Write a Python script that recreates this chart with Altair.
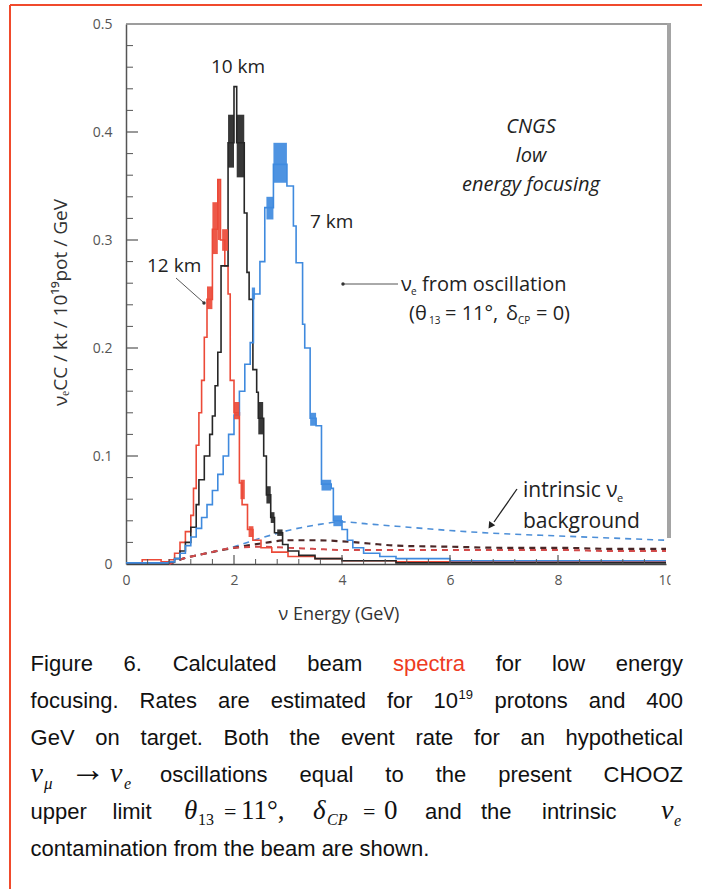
import altair as alt
import pandas as pd

# ---------------- values ----------------
# nu_e from oscillation, 12 km (red): histogram bin edges (GeV) and rates
red_edges = [0, 0.3, 0.65, 0.8, 0.9, 1.0, 1.1, 1.2, 1.25, 1.3, 1.35, 1.4, 1.45, 1.5, 1.6, 1.7,
             1.75, 1.83, 1.89, 1.93, 2.0, 2.1, 2.15, 2.25, 2.35, 2.5, 2.7, 3.0, 3.5, 4.0, 5.0, 10.0]
red_vals = [0.001, 0.004, 0.002, 0.004, 0.01, 0.02, 0.03, 0.045, 0.07, 0.11, 0.14, 0.17, 0.21,
            0.245, 0.31, 0.356, 0.3, 0.276, 0.25, 0.17, 0.14, 0.075, 0.055, 0.032, 0.022,
            0.015, 0.011, 0.007, 0.005, 0.003, 0.002]

# 10 km (black)
black_edges = [0, 0.8, 0.9, 1.0, 1.1, 1.2, 1.3, 1.35, 1.45, 1.55, 1.6, 1.65, 1.7, 1.76, 1.89,
               2.0, 2.05, 2.19, 2.24, 2.28, 2.35, 2.42, 2.45, 2.55, 2.6, 2.68, 2.75, 2.9, 3.0,
               3.2, 3.5, 4.0, 5.0, 10.0]
black_vals = [0.001, 0.002, 0.005, 0.012, 0.02, 0.034, 0.055, 0.078, 0.1, 0.12, 0.137, 0.165,
              0.196, 0.276, 0.39, 0.442, 0.39, 0.325, 0.27, 0.245, 0.18, 0.159, 0.135, 0.1,
              0.064, 0.043, 0.029, 0.018, 0.012, 0.008, 0.005, 0.003, 0.001]

# 7 km (blue)
blue_edges = [0, 0.8, 0.9, 1.0, 1.1, 1.2, 1.3, 1.4, 1.5, 1.6, 1.7, 1.8, 1.9, 2.0, 2.1, 2.2, 2.3,
              2.36, 2.48, 2.57, 2.73, 2.98, 3.1, 3.15, 3.27, 3.31, 3.41, 3.52, 3.62, 3.8, 3.84,
              4.0, 4.1, 4.2, 4.4, 4.7, 5.0, 6.0, 10.0]
blue_vals = [0.001, 0.002, 0.005, 0.01, 0.017, 0.025, 0.033, 0.043, 0.055, 0.068, 0.083, 0.1,
             0.12, 0.138, 0.16, 0.185, 0.205, 0.25, 0.28, 0.33, 0.37, 0.35, 0.313, 0.279, 0.222,
             0.2, 0.135, 0.128, 0.074, 0.07, 0.04, 0.032, 0.022, 0.015, 0.01, 0.007, 0.005, 0.003]

# bin-to-bin fluctuation bands (drawn solid in the figure): E from, E to, rate low, rate high
black_bands = [(1.89, 2.0, 0.367, 0.416), (2.05, 2.19, 0.358, 0.416), (2.45, 2.54, 0.12, 0.15),
               (2.6, 2.68, 0.056, 0.072), (2.68, 2.75, 0.038, 0.048), (2.8, 2.9, 0.026, 0.032)]
red_bands = [(1.5, 1.6, 0.236, 0.257), (1.6, 1.7, 0.287, 0.335), (1.7, 1.74, 0.3, 0.356),
             (1.78, 1.89, 0.29, 0.31), (2.0, 2.1, 0.134, 0.15), (2.12, 2.2, 0.06, 0.078),
             (2.27, 2.36, 0.025, 0.035)]
blue_bands = [(2.6, 2.73, 0.319, 0.34), (2.73, 2.98, 0.353, 0.39), (2.33, 2.39, 0.245, 0.256),
              (3.41, 3.52, 0.128, 0.14), (3.62, 3.8, 0.068, 0.078), (3.84, 4.0, 0.035, 0.045)]

# intrinsic nu_e background (dashed)
dash_E = [0.8, 1.0, 1.5, 2.0, 2.5, 3.0, 3.5, 4.0, 4.5, 5.0, 6.0, 7.0, 8.0, 9.0, 10.0]
blue_dash = [0.0, 0.004, 0.01, 0.016, 0.024, 0.031, 0.036, 0.039, 0.037, 0.035, 0.031, 0.028,
             0.026, 0.024, 0.022]
black_dash = [0.0, 0.004, 0.01, 0.015, 0.019, 0.022, 0.022, 0.021, 0.019, 0.017, 0.016, 0.015,
              0.015, 0.014, 0.014]
red_dash = [0.0, 0.004, 0.01, 0.015, 0.016, 0.015, 0.014, 0.013, 0.013, 0.013, 0.013, 0.013,
            0.013, 0.012, 0.012]

# axes
x_labels = [0, 2, 4, 6, 8, 10]
y_labels = [0, 0.1, 0.2, 0.3, 0.4, 0.5]
x_major_ticks = [2, 4, 6, 8]
x_minor_ticks = [0.4, 0.8, 1.2, 1.6, 2.4, 2.8, 3.2, 3.6, 4.4, 4.8, 5.2, 5.6, 6.4, 6.8, 7.2,
                 7.6, 8.4, 8.8, 9.2, 9.6]
y_major_ticks = [0.1, 0.2, 0.3, 0.4]
y_minor_ticks = [0.02, 0.04, 0.06, 0.08, 0.12, 0.14, 0.16, 0.18, 0.22, 0.24, 0.26, 0.28,
                 0.32, 0.34, 0.36, 0.38, 0.42, 0.44, 0.46, 0.48]

# ---------------- colours / fonts ----------------
RED, BLACK, BLUE = "#ec4a38", "#262626", "#3f8ade"
CF = "Open Sans"
SANS, SERIF = "Liberation Sans", "Liberation Serif"
W, H = 540, 540
OX, OY = 126, 24  # plot origin on the page


def px(x):
    return x - OX


def py(y):
    return y - OY


xs = alt.Scale(domain=[0, 10], nice=False, zero=False)
ys = alt.Scale(domain=[0, 0.5], nice=False, zero=False)

xaxis = alt.Axis(values=x_labels, format="d", ticks=False, tickSize=0, grid=False,
                 domainColor="#444", domainWidth=1.5, labelFlush=False,
                 labelFont=CF, labelFontSize=14, labelColor="#555", labelPadding=9,
                 title="ν Energy (GeV)", titleFont=CF, titleFontSize=18,
                 titleFontWeight="normal", titleColor="#333", titleX=152, titleY=55,
                 titleAlign="left", titleBaseline="alphabetic")
yaxis = alt.Axis(values=y_labels, format=".1~f", ticks=False, tickSize=0, grid=False,
                 domainColor="#555", domainWidth=1.5, labelFlush=False,
                 labelFont=CF, labelFontSize=14, labelColor="#555", labelPadding=14,
                 title="νₑCC / kt / 10¹⁹pot / GeV", titleFont=CF, titleFontSize=19,
                 titleFontWeight="normal", titleColor="#333", titleAngle=-90,
                 titleX=-60, titleY=278, titleAlign="center", titleBaseline="alphabetic")


def X(f):
    return alt.X(f, type="quantitative", scale=xs, axis=xaxis)


def Y(f):
    return alt.Y(f, type="quantitative", scale=ys, axis=yaxis)


def step_frame(edges, vals):
    rows = [{"E": e, "v": v} for e, v in zip(edges[:-1], vals)]
    rows.append({"E": edges[-1], "v": vals[-1]})
    return pd.DataFrame(rows)


layers = []

# dashed backgrounds
dash_df = pd.DataFrame({"E": dash_E, "b": blue_dash, "k": black_dash, "r": red_dash})
for col, colr, sw, dash in [("b", "#4d8fd8", 1.6, [6, 5]), ("k", "#4a2626", 2.2, [6, 5]),
                            ("r", "#d24a4a", 2.0, [6, 5])]:
    layers.append(alt.Chart(dash_df).mark_line(color=colr, strokeWidth=sw, strokeDash=dash,
                                                interpolate="monotone")
                  .encode(x=X("E"), y=Y(col)))

# solid oscillation spectra
for edges, vals, colr in [(red_edges, red_vals, RED), (black_edges, black_vals, BLACK),
                          (blue_edges, blue_vals, BLUE)]:
    layers.append(alt.Chart(step_frame(edges, vals))
                  .mark_line(interpolate="step-after", color=colr, strokeWidth=1.6)
                  .encode(x=X("E"), y=Y("v")))

band_rows = []
for bands, colr in [(red_bands, RED), (black_bands, BLACK), (blue_bands, BLUE)]:
    for e1, e2, v1, v2 in bands:
        band_rows.append({"E1": e1, "E2": e2, "v1": v1, "v2": v2, "c": colr})
layers.append(alt.Chart(pd.DataFrame(band_rows)).mark_rect(opacity=0.92)
              .encode(x=X("E1"), x2="E2", y=Y("v1"), y2="v2",
                      color=alt.Color("c:N", scale=None)))

# inward ticks
layers.append(alt.Chart(pd.DataFrame({"E": x_minor_ticks})).mark_rule(color="#555", strokeWidth=1)
              .encode(x=X("E"), y=alt.value(H), y2=alt.value(H - 5)))
layers.append(alt.Chart(pd.DataFrame({"E": x_major_ticks})).mark_rule(color="#555", strokeWidth=1.2)
              .encode(x=X("E"), y=alt.value(H), y2=alt.value(H - 9)))
layers.append(alt.Chart(pd.DataFrame({"v": y_minor_ticks})).mark_rule(color="#555", strokeWidth=1)
              .encode(y=Y("v"), x=alt.value(0), x2=alt.value(7)))
layers.append(alt.Chart(pd.DataFrame({"v": y_major_ticks})).mark_rule(color="#555", strokeWidth=1.2)
              .encode(y=Y("v"), x=alt.value(0), x2=alt.value(12)))

# frame: top line, grey right edge, cropped "10" label
layers.append(alt.Chart(pd.DataFrame({"a": [0]})).mark_rule(color="#7c7c7c", strokeWidth=1.5)
              .encode(x=alt.value(0), x2=alt.value(W + 4), y=alt.value(0)))
layers.append(alt.Chart(pd.DataFrame({"a": [0]})).mark_rule(color="#a4a4a4", strokeWidth=4)
              .encode(x=alt.value(W + 3), y=alt.value(-1), y2=alt.value(H - 26)))
layers.append(alt.Chart(pd.DataFrame({"a": [0]})).mark_rect(color="white")
              .encode(x=alt.value(W + 4.5), x2=alt.value(W + 36), y=alt.value(H + 4),
                      y2=alt.value(H + 28)))

# leader lines and arrow
for (x1, y1, x2, y2, colr, sw) in [(176, 278, 203, 302, "#444", 0.9),
                                   (343, 284, 398, 284, "#555", 1.0),
                                   (517, 489, 494, 522, "#222", 1.3)]:
    layers.append(alt.Chart(pd.DataFrame({"a": [0]})).mark_rule(color=colr, strokeWidth=sw)
                  .encode(x=alt.value(px(x1)), y=alt.value(py(y1)),
                          x2=alt.value(px(x2)), y2=alt.value(py(y2))))
for (x1, y1) in [(204, 303), (343, 284)]:
    layers.append(alt.Chart(pd.DataFrame({"a": [0]})).mark_point(filled=True, color="#333", size=12, opacity=1)
                  .encode(x=alt.value(px(x1)), y=alt.value(py(y1))))
layers.append(alt.Chart(pd.DataFrame({"a": [0]}))
              .mark_point(shape="triangle", angle=215, filled=True, color="#222", size=55, opacity=1)
              .encode(x=alt.value(px(491)), y=alt.value(py(525))))


def text_layer(rows, font, align="left", style="normal", color="#222"):
    df = pd.DataFrame([{"x": px(r[1]), "y": py(r[2]), "t": r[0], "fs": r[3],
                        "c": (r[4] if len(r) > 4 else color)} for r in rows])
    return (alt.Chart(df).mark_text(align=align, baseline="alphabetic", font=font, fontStyle=style)
            .encode(x=alt.X("x:Q", scale=None, axis=None), y=alt.Y("y:Q", scale=None, axis=None),
                    text="t:N", size=alt.Size("fs:Q", scale=None, legend=None),
                    color=alt.Color("c:N", scale=None)))


# chart annotations
layers.append(text_layer([("10 km", 238, 73, 19)], CF, align="center"))
layers.append(text_layer([("CNGS", 531, 133, 20), ("low", 531, 162, 20),
                          ("energy focusing", 531, 191, 20)], CF, align="center", style="italic"))
layers.append(text_layer([
    ("7 km", 310, 228, 19), ("12 km", 147, 272, 19),
    ("ν", 401, 291, 20), ("e", 411, 295, 10), ("from oscillation", 422, 291, 20),
    ("(θ", 409, 320, 20), ("13", 429, 324, 10), ("= 11°,", 445, 320, 20), ("δ", 506, 320, 20),
    ("CP", 518, 324, 10), ("= 0)", 536, 320, 20),
    ("intrinsic ν", 523, 497, 21), ("e", 617, 502, 11), ("background", 523, 528, 21),
], CF))

# ---------------- caption (justified) ----------------
AR = {' ': 278, '.': 278, ',': 278, '(': 333, ')': 333, '-': 333, ':': 278}
for ch in "0123456789":
    AR[ch] = 556
AR.update(dict(zip("ABCDEFGHIJKLMNOPQRSTUVWXYZ",
                   [667, 667, 722, 722, 667, 611, 778, 722, 278, 500, 667, 556, 833, 722, 778,
                    667, 778, 722, 667, 611, 722, 667, 944, 667, 667, 611])))
AR.update(dict(zip("abcdefghijklmnopqrstuvwxyz",
                   [556, 556, 500, 556, 556, 278, 556, 556, 222, 222, 500, 222, 833, 556, 556,
                    556, 556, 333, 500, 278, 556, 500, 722, 500, 500, 500])))
FS = 22
L = [671, 708, 745, 782, 819, 856]
X0, X1 = 30.6, 683


def tw(s, size):
    return sum(AR.get(c, 556) for c in s) * size / 1000.0


def justify(words, x0, x1, extra=None):
    extra = extra or {}
    widths = [tw(w, FS) + extra.get(i, 0) for i, w in enumerate(words)]
    gap = (x1 - x0 - sum(widths)) / (len(words) - 1)
    out, x = [], x0
    for wd in widths:
        out.append(x)
        x += wd + gap
    return out


line1 = ["Figure", "6.", "Calculated", "beam", "spectra", "for", "low", "energy"]
line2 = ["focusing.", "Rates", "are", "estimated", "for", "10", "protons", "and", "400"]
line3 = ["GeV", "on", "target.", "Both", "the", "event", "rate", "for", "an", "hypothetical"]
line4 = ["oscillations", "equal", "to", "the", "present", "CHOOZ"]
line6 = "contamination from the beam are shown."

sans_rows = []
for w, x in zip(line1, justify(line1, X0, X1)):
    sans_rows.append((w, x, L[0], FS, "#ee3b22" if w == "spectra" else "#111"))
sup_w = tw("19", 13) + 1
xs2 = justify(line2, X0, X1, {5: sup_w})
for w, x in zip(line2, xs2):
    sans_rows.append((w, x, L[1], FS, "#111"))
sans_rows.append(("19", xs2[5] + tw("10", FS) + 0.5, L[1] - 9, 13, "#111"))
for w, x in zip(line3, justify(line3, X0, X1)):
    sans_rows.append((w, x, L[2], FS, "#111"))
for w, x in zip(line4, justify(line4, 160, X1)):
    sans_rows.append((w, x, L[3], FS, "#111"))
for w, x in [("upper", 30.6), ("limit", 112.5), ("and", 425), ("the", 481), ("intrinsic", 542)]:
    sans_rows.append((w, x, L[4], FS, "#111"))
sans_rows.append((line6, X0, L[5], FS, "#111"))
layers.append(text_layer(sans_rows, SANS))

serif_it = [("ν", 30.6, L[3], 28), ("μ", 44, L[3] + 7, 17), ("ν", 110, L[3], 28),
            ("e", 124, L[3] + 7, 16),
            ("θ", 184, L[4], 27), ("δ", 313, L[4], 27), ("CP", 327, L[4] + 6, 16),
            ("ν", 661, L[4], 28), ("e", 674, L[4] + 7, 16)]
layers.append(text_layer(serif_it, SERIF, style="italic", color="#111"))
serif_up = [("→", 70, L[3] - 1, 36), ("13", 198, L[4] + 6, 16), ("=", 224, L[4], 22),
            ("11°,", 241, L[4], 27), ("=", 363, L[4], 22), ("0", 384, L[4], 27)]
layers.append(text_layer(serif_up, SERIF, color="#111"))

# page border (red)
for (x1, y1, x2, y2) in [(10, 5, 702, 5), (10, 5, 10, 889)]:
    layers.append(alt.Chart(pd.DataFrame({"a": [0]})).mark_rule(color="#f04a2c", strokeWidth=2)
                  .encode(x=alt.value(px(x1)), y=alt.value(py(y1)),
                          x2=alt.value(px(x2)), y2=alt.value(py(y2))))

chart = (alt.layer(*layers)
         .properties(width=W, height=H, background="white",
                     autosize=alt.AutoSizeParams(type="none"),
                     padding={"left": OX, "top": OY, "right": 702 - OX - W,
                              "bottom": 889 - OY - H})
         .configure_view(stroke=None))

chart.save("out.html", embed_options={"renderer": "svg", "actions": False})
